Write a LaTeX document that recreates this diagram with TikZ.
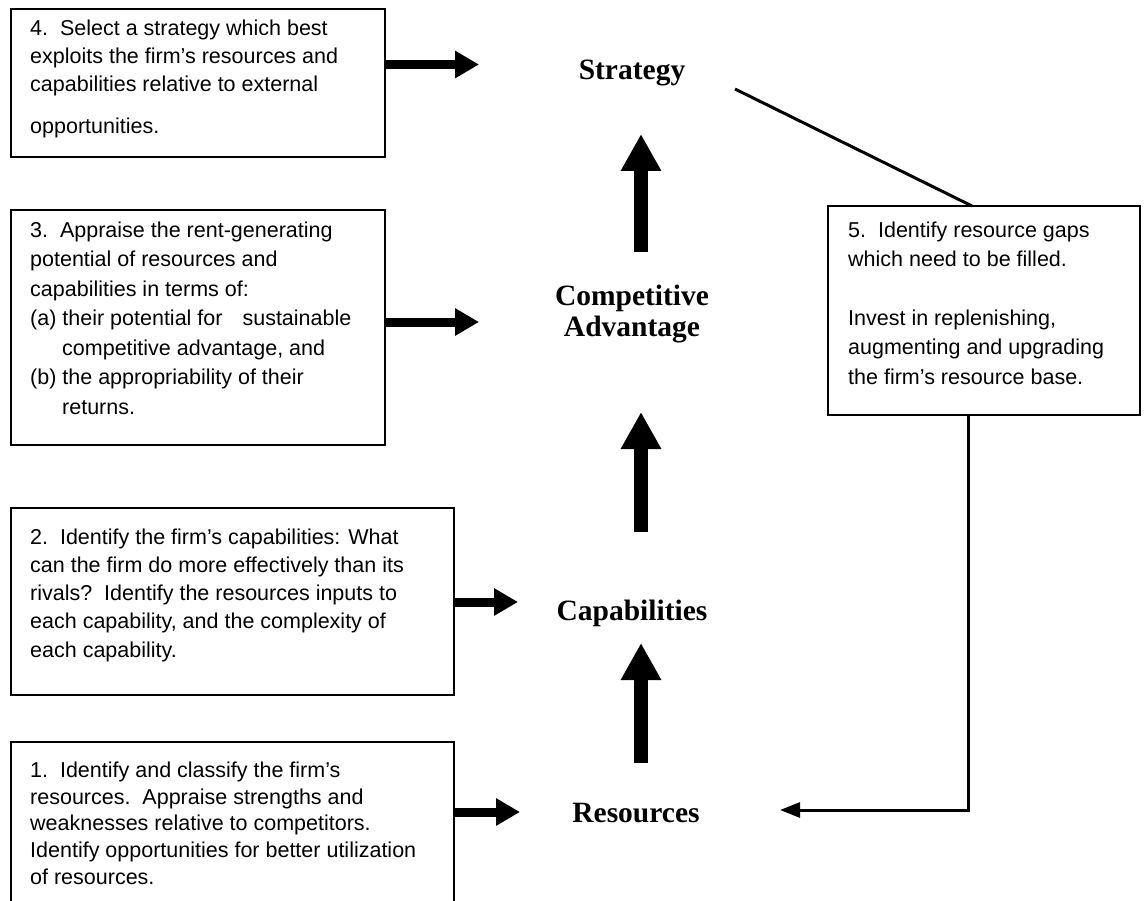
\documentclass[tikz,border=0pt]{standalone}
\usepackage{fontspec}
\setmainfont{Liberation Sans}
\newfontfamily\labfont{Liberation Serif}
\usetikzlibrary{arrows.meta}
\begin{document}
\begin{tikzpicture}[x=1pt,y=-1pt,
  box/.style={draw,line width=1.6pt,inner sep=0pt,outer sep=0pt,anchor=north west},
  txt/.style={anchor=north west,inner sep=0pt,align=left},
  lab/.style={anchor=base,inner sep=0pt,align=center,font=\labfont\bfseries\fontsize{29.5}{31}\selectfont},
  harrow/.style={line width=9pt,-{Triangle[length=24pt 0 0,width=26pt 0 0]}},
  varrow/.style={line width=14pt,-{Triangle[length=37pt 0 0,width=38pt 0 0]}},
  fb/.style={line width=3pt},
  fbarrow/.style={line width=3pt,-{Triangle[length=20pt 0 0,width=15pt 0 0]}},
]
\useasboundingbox (0,0) rectangle (1148,901);

% boxes
\node[box,minimum width=374pt,minimum height=148pt] (b4) at (11,9) {};
\node[box,minimum width=374pt,minimum height=235pt] (b3) at (11,210) {};
\node[box,minimum width=443pt,minimum height=187pt] (b2) at (11,508) {};
\node[box,minimum width=443pt,minimum height=200pt] (b1) at (11,742) {};
\node[box,minimum width=312pt,minimum height=209pt] (b5) at (828,206) {};

% box texts
\node[txt,font=\fontsize{21.5}{28}\selectfont] (t4) at (30,19.5)
  {4.\ \ Select a strategy which best\\exploits the firm’s resources and\\capabilities relative to external\\[14pt]opportunities.};
\node[txt,font=\fontsize{21.5}{29.5}\selectfont] (t3) at (30,221.5)
  {3.\ \ Appraise the rent-generating\\potential of resources and\\capabilities in terms of:\\(a) their potential for\hspace{20pt}sustainable\\\hspace*{32pt}competitive advantage, and\\(b) the appropriability of their\\\hspace*{32pt}returns.};
\node[txt,font=\fontsize{21.5}{28.2}\selectfont] (t2) at (30,528.5)
  {2.\ \ Identify the firm’s capabilities: What\\can the firm do more effectively than its\\rivals?\ \ Identify the resources inputs to\\each capability, and the complexity of\\each capability.};
\node[txt,font=\fontsize{21.5}{26.8}\selectfont] (t1) at (30,761.5)
  {1.\ \ Identify and classify the firm’s\\resources.\ \ Appraise strengths and\\weaknesses relative to competitors.\\Identify opportunities for better utilization\\of resources.};
\node[txt,font=\fontsize{21.5}{29.4}\selectfont] (t5) at (848,221.5)
  {5.\ \ Identify resource gaps\\which need to be filled.\\[29.4pt]Invest in replenishing,\\augmenting and upgrading\\the firm’s resource base.};

% central labels
\node[lab] (strat) at (632,80) {Strategy};
\node[lab,anchor=north] (ca) at (632,285) {Competitive\\Advantage};
\node[lab] (cap) at (632,620) {Capabilities};
\node[lab] (res) at (636,822) {Resources};

% arrow end points
\coordinate (h4) at (479,64.5);
\coordinate (h3) at (479,322);
\coordinate (h2) at (518,602);
\coordinate (h1) at (520,812);
\coordinate (v1s) at (641,252);
\coordinate (v1e) at (641,134);
\coordinate (v2s) at (641,532);
\coordinate (v2e) at (641,412);
\coordinate (v3s) at (641,763);
\coordinate (v3e) at (641,643);
\coordinate (fbs) at (735,89);
\coordinate (fbtop) at (972,206);
\coordinate (fbx) at (968,415);
\coordinate (fbe) at (780,810);

% horizontal arrows from boxes
\draw[harrow] (b4.east |- h4) -- (h4);
\draw[harrow] (b3.east |- h3) -- (h3);
\draw[harrow] (b2.east |- h2) -- (h2);
\draw[harrow] (b1.east |- h1) -- (h1);

% vertical arrows
\draw[varrow] (v1s) -- (v1e);
\draw[varrow] (v2s) -- (v2e);
\draw[varrow] (v3s) -- (v3e);

% feedback loop
\draw[fb] (fbs) -- (fbtop);
\draw[fbarrow] (fbx) |- (fbe);
\end{tikzpicture}
\end{document}
